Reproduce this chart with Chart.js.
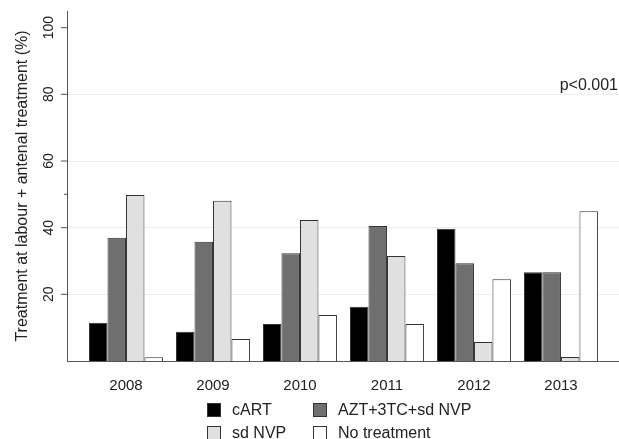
<!DOCTYPE html>
<html>
<head>
<meta charset="utf-8">
<script src="https://cdn.jsdelivr.net/npm/chart.js@4/dist/chart.umd.min.js"></script>
<style>
  html, body { margin: 0; padding: 0; background: #fff; }
  #wrap { width: 619px; height: 439px; }
</style>
</head>
<body>
<div id="wrap"><canvas id="chart"></canvas></div>
<script>
const years = ["2008", "2009", "2010", "2011", "2012", "2013"];
const cart = [11.5, 8.8, 11.1, 16.3, 39.7, 26.6];
const azt = [37.0, 35.8, 32.3, 40.5, 29.3, 26.6];
const sdNvp = [49.8, 48.1, 42.3, 31.5, 5.7, 1.2];
const noTreatment = [1.1, 6.6, 13.8, 11.1, 24.5, 44.9];
const yLabels = [20, 40, 60, 80, 100];
const yGrid = [20, 40, 60, 80];

const font = "'Liberation Sans', Arial, sans-serif";
const textColor = "#222";

function toPoints(arr) {
  return arr.map((v, i) => ({ x: i, y: v }));
}

// y tick labels (rotated), tick marks, p-value and legend
const extras = {
  id: "extras",
  afterDraw(chart) {
    const ctx = chart.ctx;
    const y = chart.scales.y;
    const axisX = chart.chartArea.left;
    ctx.save();
    ctx.strokeStyle = "#555";
    ctx.lineWidth = 1;
    yLabels.forEach(v => {
      const py = y.getPixelForValue(v);
      ctx.beginPath();
      ctx.moveTo(axisX - 6, py);
      ctx.lineTo(axisX, py);
      ctx.stroke();
    });
    const py50 = y.getPixelForValue(50);
    ctx.beginPath();
    ctx.moveTo(axisX - 3, py50);
    ctx.lineTo(axisX, py50);
    ctx.stroke();

    ctx.fillStyle = textColor;
    ctx.font = "14px " + font;
    ctx.textAlign = "center";
    ctx.textBaseline = "middle";
    yLabels.forEach(v => {
      ctx.save();
      ctx.translate(49, y.getPixelForValue(v));
      ctx.rotate(-Math.PI / 2);
      ctx.fillText(String(v), 0, 0);
      ctx.restore();
    });

    ctx.font = "16px " + font;
    ctx.textAlign = "right";
    ctx.fillText("p<0.001", 618, y.getPixelForValue(80) - 9);

    // legend in two columns
    const cols = [207, 313];
    const rows = [410, 433];
    ctx.textAlign = "left";
    chart.data.datasets.forEach((ds, i) => {
      const lx = cols[i % 2];
      const ly = rows[Math.floor(i / 2)];
      ctx.fillStyle = ds.backgroundColor;
      ctx.fillRect(lx, ly - 7, 14, 14);
      ctx.strokeStyle = "#333";
      ctx.strokeRect(lx + 0.5, ly - 6.5, 13, 13);
      ctx.fillStyle = textColor;
      ctx.fillText(ds.label, lx + 25, ly + 1);
    });
    ctx.restore();
  }
};

new Chart(document.getElementById("chart"), {
  type: "bar",
  data: {
    datasets: [
      { label: "cART", data: toPoints(cart), backgroundColor: "#000000" },
      { label: "AZT+3TC+sd NVP", data: toPoints(azt), backgroundColor: "#6f6f6f" },
      { label: "sd NVP", data: toPoints(sdNvp), backgroundColor: "#e0e0e0" },
      { label: "No treatment", data: toPoints(noTreatment), backgroundColor: "#ffffff" }
    ]
  },
  options: {
    responsive: true,
    maintainAspectRatio: false,
    animation: false,
    layout: { padding: { top: 11, right: 0, left: 0, bottom: 0 } },
    datasets: {
      bar: {
        borderColor: "#333",
        borderWidth: 1,
        categoryPercentage: 0.85,
        barPercentage: 1
      }
    },
    plugins: {
      legend: { display: false },
      tooltip: { enabled: false }
    },
    scales: {
      x: {
        type: "linear",
        min: -0.678,
        max: 5.667,
        offset: false,
        afterBuildTicks: s => { s.ticks = years.map((_, i) => ({ value: i })); },
        afterFit: s => { s.height = 78; },
        grid: { display: false },
        border: { display: true, color: "#555", width: 1 },
        ticks: {
          callback: v => years[v],
          color: textColor,
          font: { family: font, size: 15 },
          padding: 8,
          maxRotation: 0
        }
      },
      y: {
        min: 0,
        max: 105,
        afterBuildTicks: s => { s.ticks = yGrid.map(v => ({ value: v })); },
        afterFit: s => { s.width = 67; },
        grid: { color: "#eeeeee", drawTicks: false },
        border: { display: true, color: "#555", width: 1 },
        ticks: { display: false },
        title: {
          display: true,
          text: "Treatment at labour + antenal treatment (%)",
          color: textColor,
          font: { family: font, size: 16 },
          padding: { top: 13, bottom: 0 }
        }
      }
    }
  },
  plugins: [extras]
});
</script>
</body>
</html>
